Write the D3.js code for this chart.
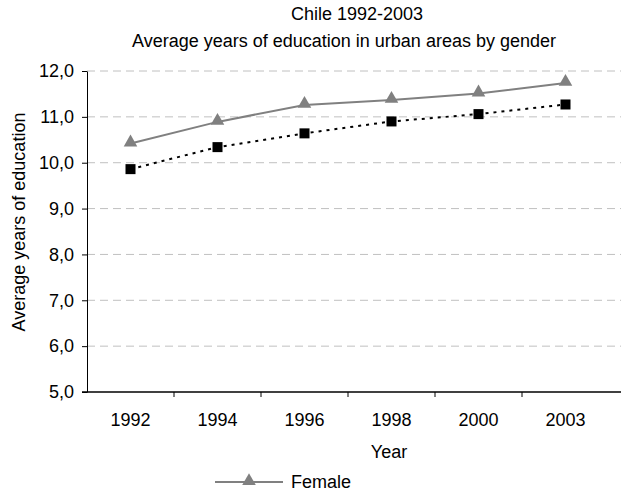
<!DOCTYPE html>
<html><head><meta charset="utf-8">
<script src="https://cdn.jsdelivr.net/npm/d3@7"></script>
<style>body{margin:0;background:#fff}svg{display:block}text{font-family:"Liberation Sans",Arial,sans-serif;fill:#000}</style>
</head><body>
<svg id="c" width="621" height="495"></svg>
<script>
const years = ["1992","1994","1996","1998","2000","2003"];
const female = [10.42, 10.89, 11.26, 11.37, 11.51, 11.74];
const male = [9.86, 10.34, 10.64, 10.9, 11.06, 11.27];
const yTicks = [5,6,7,8,9,10,11,12];

const FS = 18;
const svg = d3.select("#c");
const L = 87, R = 609, T = 71, B = 392;
const x = d3.scaleBand().domain(years).range([L, R]);
const y = d3.scaleLinear().domain([5, 12]).range([B, T]);
const fmt = v => d3.format(".1f")(v).replace(".", ",");

// gridlines
svg.append("g").selectAll("line").data(yTicks.filter(d => d > 5)).join("line")
  .attr("x1", L).attr("x2", 621).attr("y1", d => y(d)).attr("y2", d => y(d))
  .attr("stroke", "#c0c0c0").attr("stroke-dasharray", "8,5").attr("stroke-width", 1);

// y axis
const ya = svg.append("g").attr("transform", `translate(${L},0)`)
  .call(d3.axisLeft(y).tickValues(yTicks).tickFormat(fmt).tickSize(5).tickSizeOuter(0));
ya.select(".domain").attr("stroke", "#000");
ya.selectAll("text").attr("font-size", FS).attr("x", -13);

// x axis
const xa = svg.append("g").attr("transform", `translate(0,${B})`);
xa.append("line").attr("x1", L - 5).attr("x2", 621).attr("y1", 0).attr("y2", 0).attr("stroke", "#000").attr("stroke-width", 1.5);
xa.selectAll("line.t").data(years.slice(1)).join("line").attr("class", "t")
  .attr("x1", d => x(d)).attr("x2", d => x(d)).attr("y1", 0).attr("y2", 5).attr("stroke", "#000");
xa.selectAll("text").data(years).join("text")
  .attr("x", d => x(d) + x.bandwidth() / 2).attr("y", 34)
  .attr("text-anchor", "middle").attr("font-size", FS).text(d => d);

const line = d3.line().x((d, i) => x(years[i]) + x.bandwidth() / 2).y(d => y(d));

// male
svg.append("path").datum(male).attr("d", line).attr("fill", "none")
  .attr("stroke", "#000").attr("stroke-width", 2).attr("stroke-dasharray", "3,5");
svg.append("g").selectAll("rect").data(male).join("rect")
  .attr("x", (d, i) => x(years[i]) + x.bandwidth() / 2 - 5)
  .attr("y", d => y(d) - 5).attr("width", 10).attr("height", 10).attr("fill", "#000");

// female
svg.append("path").datum(female).attr("d", line).attr("fill", "none")
  .attr("stroke", "#808080").attr("stroke-width", 2);
const tri = d3.symbol().type(d3.symbolTriangle).size(80);
svg.append("g").selectAll("path").data(female).join("path")
  .attr("d", tri).attr("fill", "#808080")
  .attr("transform", (d, i) => `translate(${x(years[i]) + x.bandwidth() / 2},${y(d) - 1})`);

// titles
svg.append("text").attr("x", 357).attr("y", 20).attr("text-anchor", "middle").attr("font-size", FS).text("Chile 1992-2003");
svg.append("text").attr("x", 344).attr("y", 47).attr("text-anchor", "middle").attr("font-size", FS).text("Average years of education in urban areas by gender");
svg.append("text").attr("transform", "translate(25,222) rotate(-90)").attr("text-anchor", "middle").attr("font-size", FS).text("Average years of education");
svg.append("text").attr("x", 389).attr("y", 458).attr("text-anchor", "middle").attr("font-size", FS).text("Year");

// legend
const lg = svg.append("g");
lg.append("line").attr("x1", 215).attr("x2", 283).attr("y1", 482).attr("y2", 482).attr("stroke", "#808080").attr("stroke-width", 2);
lg.append("path").attr("d", tri).attr("fill", "#808080").attr("transform", "translate(249,481)");
lg.append("text").attr("x", 291).attr("y", 488).attr("font-size", FS).text("Female");
</script>
</body></html>
